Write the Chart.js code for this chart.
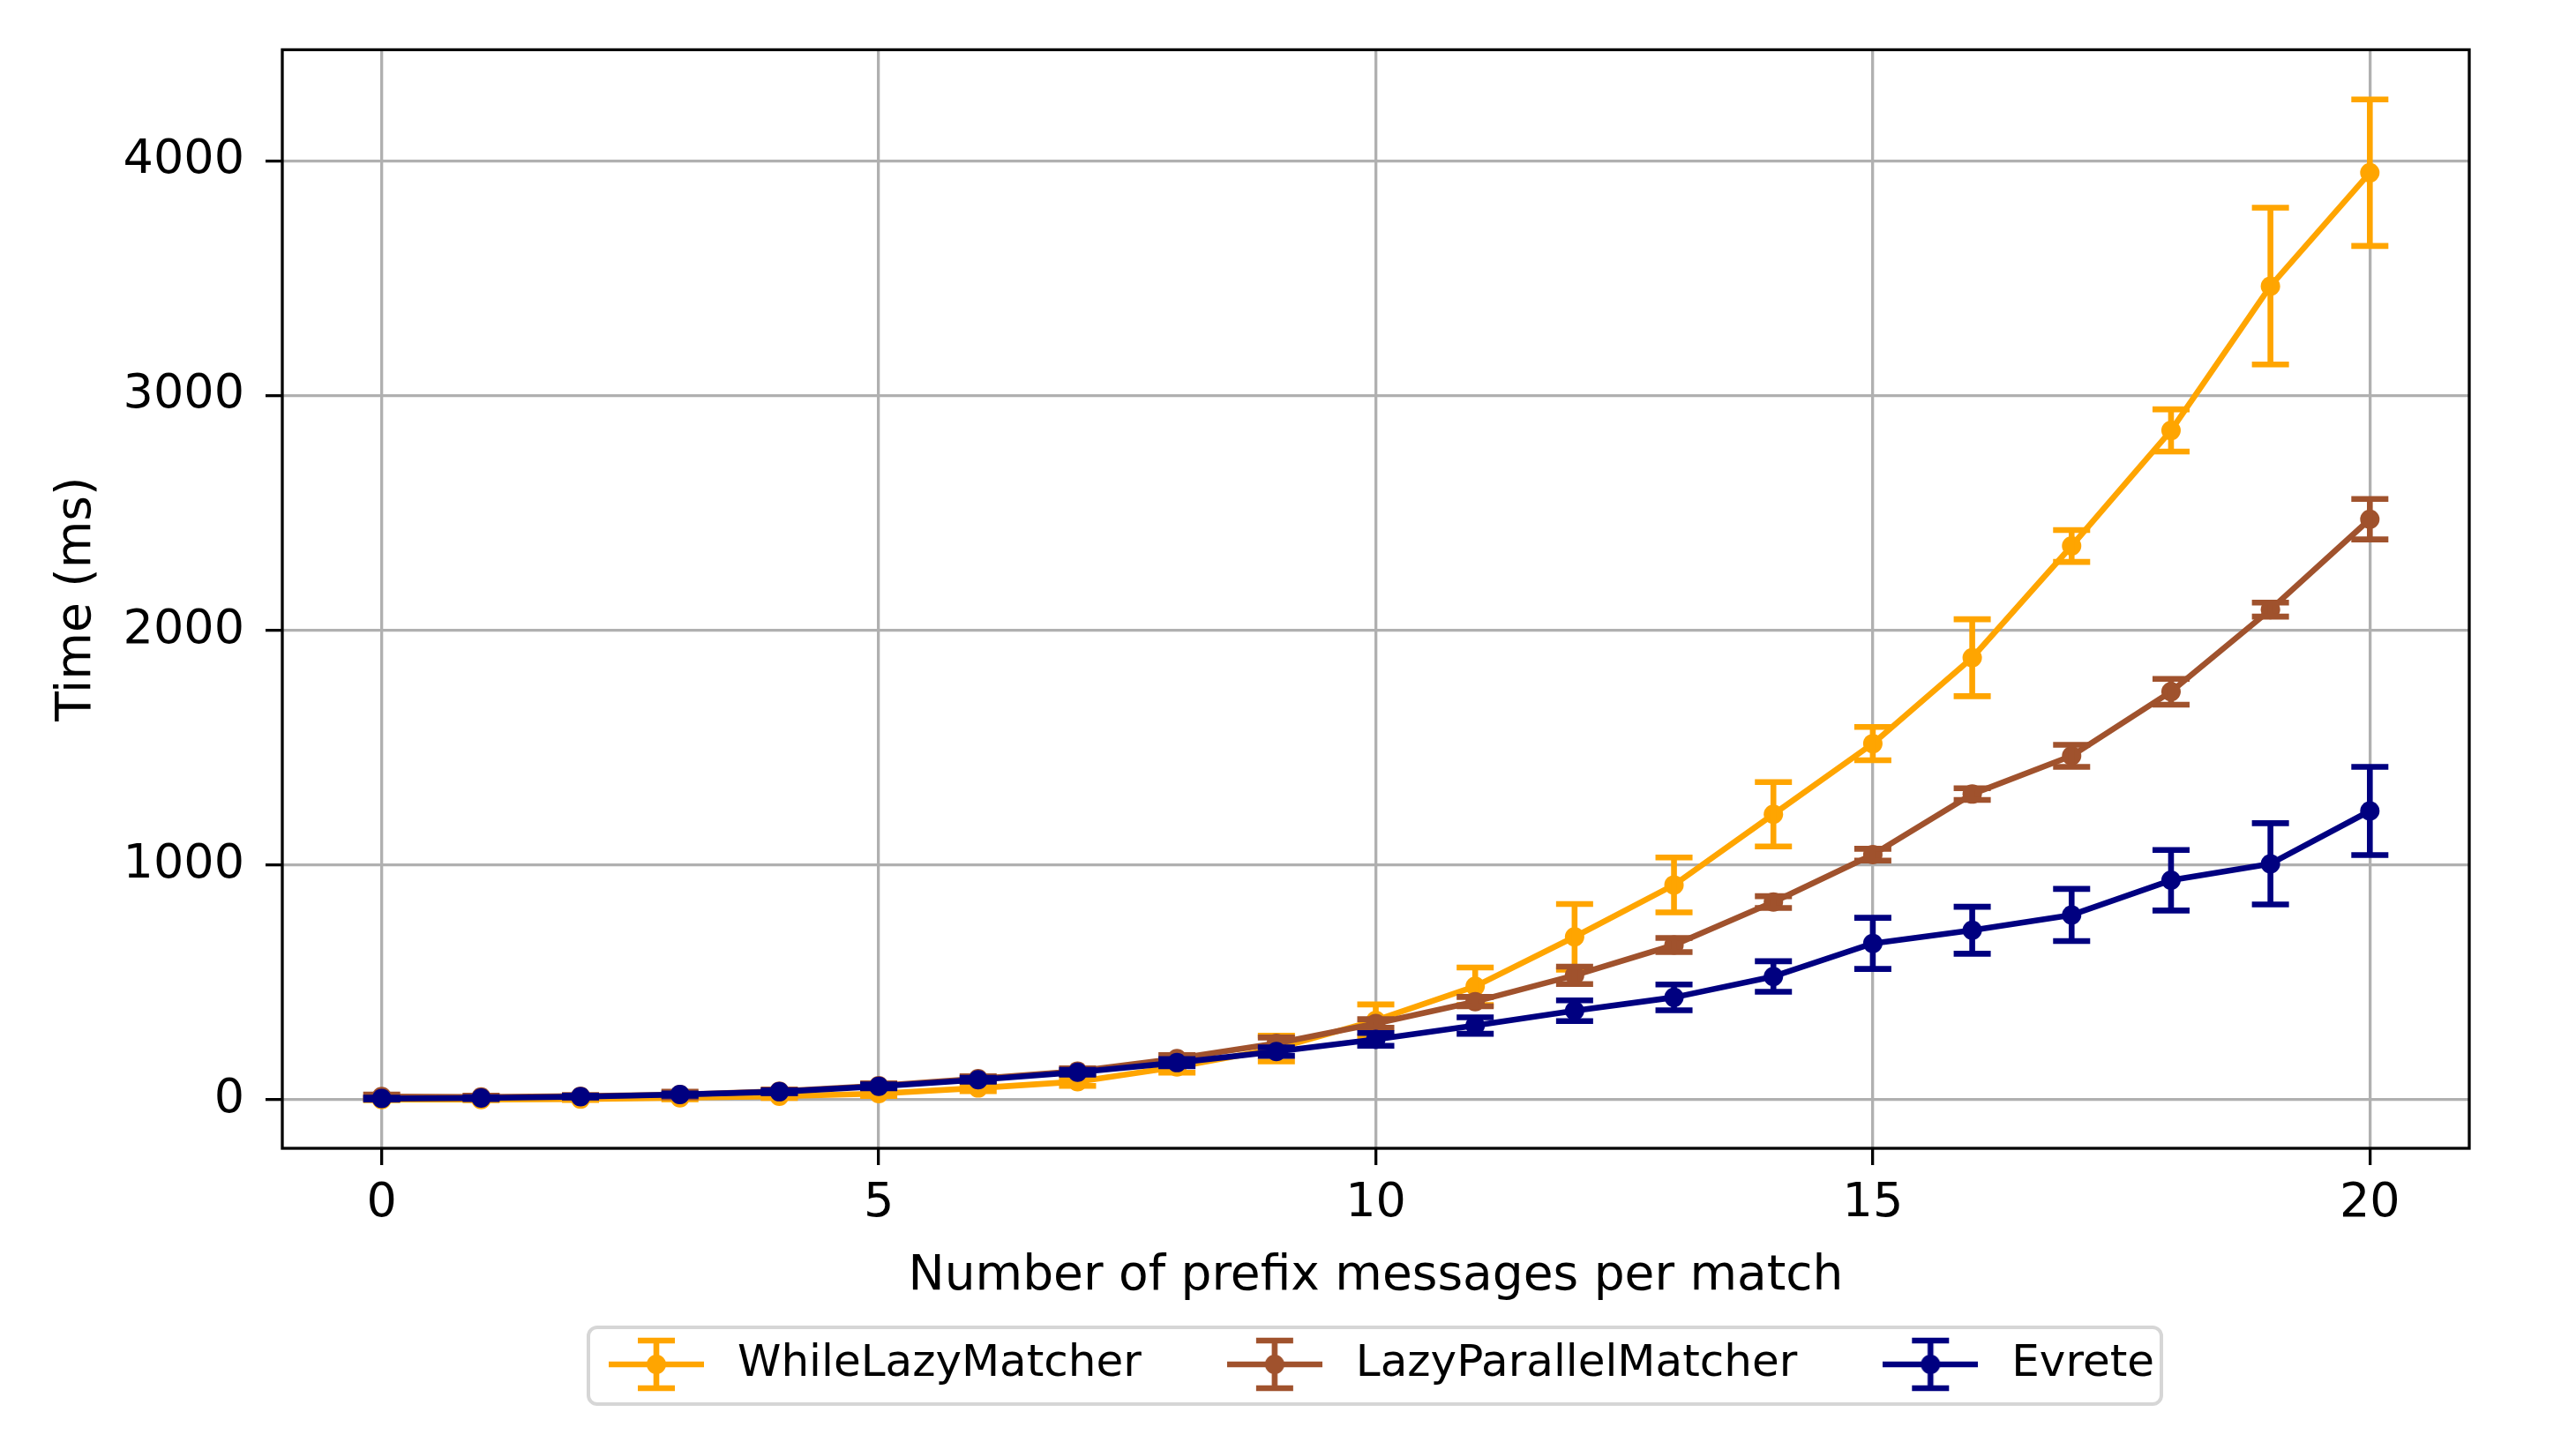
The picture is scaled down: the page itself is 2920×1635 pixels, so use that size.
<!DOCTYPE html>
<html lang="en">
  <head>
    <meta charset="UTF-8" />
    <title>Time per prefix messages</title>
    <script src="https://cdn.jsdelivr.net/npm/chart.js"></script>
    <style>
      body {
        margin: 0;
        background: #ffffff;
      }

      canvas {
        display: block;
      }
    </style>
  </head>

  <body>
    <canvas id="timeChart" width="2920" height="1635"></canvas>

    <script>
      // x axis: number of prefix messages per match
      const prefixCounts = [0, 1, 2, 3, 4, 5, 6, 7, 8, 9, 10, 11, 12, 13, 14, 15, 16, 17, 18, 19, 20];
      const xTicks = [0, 5, 10, 15, 20];
      const yTicks = [0, 1000, 2000, 3000, 4000];

      const seriesNames = ["WhileLazyMatcher", "LazyParallelMatcher", "Evrete"];
      const seriesColors = ["#ffa500", "#a0522d", "#000080"];

      // mean time (ms) and error (+/-)
      const whileLazyTimes = [1, 1, 3, 8, 15, 26, 50, 77, 140, 218, 338, 483, 694, 915, 1216, 1517, 1883, 2359, 2851, 3466, 3949];
      const whileLazyErrors = [3, 3, 4, 6, 8, 10, 14, 18, 25, 55, 68, 80, 140, 117, 137, 71, 164, 68, 90, 334, 312];

      const lazyParallelTimes = [14, 12, 15, 22, 36, 60, 90, 122, 175, 240, 325, 418, 530, 659, 842, 1044, 1302, 1465, 1738, 2088, 2473];
      const lazyParallelErrors = [8, 5, 5, 12, 8, 10, 10, 12, 15, 25, 18, 20, 37, 30, 25, 25, 25, 47, 55, 30, 86];

      const evreteTimes = [5, 7, 13, 22, 34, 57, 85, 117, 158, 205, 257, 316, 379, 436, 525, 666, 722, 787, 935, 1005, 1230];
      const evreteErrors = [4, 4, 4, 5, 6, 8, 8, 10, 15, 18, 27, 35, 44, 55, 65, 109, 100, 111, 129, 173, 188];

      const LINE_W = 6.6;
      const CAP_HALF = 21;
      const FONT = "'DejaVu Sans', 'Liberation Sans', sans-serif";

      // small canvas used as legend symbol (line + marker + error bar)
      function makeLegendIcon(color) {
        const c = document.createElement("canvas");
        c.width = 108;
        c.height = 64;
        const g = c.getContext("2d");
        g.strokeStyle = color;
        g.fillStyle = color;
        g.lineWidth = LINE_W;
        g.beginPath();
        g.moveTo(0, 32);
        g.lineTo(108, 32);
        g.moveTo(54, 5);
        g.lineTo(54, 59);
        g.moveTo(54 - CAP_HALF, 5);
        g.lineTo(54 + CAP_HALF, 5);
        g.moveTo(54 - CAP_HALF, 59);
        g.lineTo(54 + CAP_HALF, 59);
        g.stroke();
        g.beginPath();
        g.arc(54, 32, 11, 0, Math.PI * 2);
        g.fill();
        return c;
      }
      const legendIcons = seriesColors.map(makeLegendIcon);

      // draws the error bars of each series right after its line
      const errorBarPlugin = {
        id: "errorBars",
        afterDatasetDraw(chart, args) {
          const ds = chart.data.datasets[args.index];
          if (!ds.errors) return;
          const ctx = chart.ctx;
          const yScale = chart.scales.y;
          ctx.save();
          ctx.strokeStyle = ds.borderColor;
          ctx.lineWidth = LINE_W;
          args.meta.data.forEach((pt, i) => {
            const v = ds.data[i].y;
            const top = yScale.getPixelForValue(v + ds.errors[i]);
            const bottom = yScale.getPixelForValue(v - ds.errors[i]);
            ctx.beginPath();
            ctx.moveTo(pt.x, top);
            ctx.lineTo(pt.x, bottom);
            ctx.moveTo(pt.x - CAP_HALF, top);
            ctx.lineTo(pt.x + CAP_HALF, top);
            ctx.moveTo(pt.x - CAP_HALF, bottom);
            ctx.lineTo(pt.x + CAP_HALF, bottom);
            ctx.stroke();
          });
          ctx.restore();
        },
      };

      // black box around the plot area, like matplotlib spines
      const framePlugin = {
        id: "axesFrame",
        afterDatasetsDraw(chart) {
          const { ctx, chartArea } = chart;
          ctx.save();
          ctx.strokeStyle = "#000000";
          ctx.lineWidth = 3.3;
          ctx.strokeRect(chartArea.left, chartArea.top, chartArea.right - chartArea.left, chartArea.bottom - chartArea.top);
          ctx.restore();
        },
      };

      // rounded grey frame behind the legend entries
      const legendFramePlugin = {
        id: "legendFrame",
        beforeDraw(chart) {
          const legend = chart.legend;
          if (!legend || !legend.legendHitBoxes.length) return;
          const boxes = legend.legendHitBoxes;
          const first = boxes[0];
          const last = boxes[boxes.length - 1];
          const cy = first.top + first.height / 2;
          const x0 = first.left - 10;
          const x1 = last.left + last.width + 8;
          const y0 = cy - 42;
          const y1 = cy + 45;
          const ctx = chart.ctx;
          ctx.save();
          ctx.fillStyle = "#ffffff";
          ctx.strokeStyle = "#d6d6d6";
          ctx.lineWidth = 4;
          ctx.beginPath();
          ctx.roundRect(x0, y0, x1 - x0, y1 - y0, 10);
          ctx.fill();
          ctx.stroke();
          ctx.restore();
        },
      };

      function toPoints(values) {
        return prefixCounts.map((x, i) => ({ x: x, y: values[i] }));
      }

      function makeDataset(index, values, errors) {
        return {
          label: seriesNames[index],
          data: toPoints(values),
          errors: errors,
          borderColor: seriesColors[index],
          backgroundColor: seriesColors[index],
          pointBackgroundColor: seriesColors[index],
          borderWidth: LINE_W,
          borderJoinStyle: "round",
          pointRadius: 11,
          pointBorderWidth: 0,
          pointHoverRadius: 11,
          tension: 0,
          fill: false,
          order: 3 - index, // later series are drawn on top
        };
      }

      const ctxTime = document.getElementById("timeChart").getContext("2d");
      new Chart(ctxTime, {
        type: "line",
        data: {
          datasets: [
            makeDataset(0, whileLazyTimes, whileLazyErrors),
            makeDataset(1, lazyParallelTimes, lazyParallelErrors),
            makeDataset(2, evreteTimes, evreteErrors),
          ],
        },
        options: {
          responsive: false,
          animation: false,
          devicePixelRatio: 1,
          events: [],
          layout: {
            padding: { top: 56, right: 121, bottom: 53, left: 0 },
          },
          scales: {
            x: {
              type: "linear",
              min: -1,
              max: 21,
              afterBuildTicks: (axis) => {
                axis.ticks = xTicks.map((v) => ({ value: v }));
              },
              afterFit: (axis) => {
                axis.height = 136;
              },
              grid: {
                color: "#b0b0b0",
                lineWidth: 3.3,
                tickColor: "#000000",
                tickWidth: 3.3,
                tickLength: 19,
              },
              border: { display: false },
              ticks: {
                color: "#000000",
                padding: 12,
                font: { family: FONT, size: 54 },
                maxRotation: 0,
                callback: (v) => String(v),
              },
              title: {
                display: true,
                text: "Number of prefix messages per match",
                color: "#000000",
                font: { family: FONT, size: 55 },
                padding: { top: 0, bottom: -43 },
              },
            },
            y: {
              type: "linear",
              min: -207,
              max: 4473,
              afterBuildTicks: (axis) => {
                axis.ticks = yTicks.map((v) => ({ value: v }));
              },
              afterFit: (axis) => {
                axis.width = 320;
              },
              grid: {
                color: "#b0b0b0",
                lineWidth: 3.3,
                tickColor: "#000000",
                tickWidth: 3.3,
                tickLength: 19,
              },
              border: { display: false },
              ticks: {
                color: "#000000",
                padding: 24,
                font: { family: FONT, size: 54 },
                callback: (v) => String(v),
              },
              title: {
                display: true,
                text: "Time (ms)",
                color: "#000000",
                font: { family: FONT, size: 55 },
                padding: { top: 55, bottom: 0 },
              },
            },
          },
          plugins: {
            tooltip: { enabled: false },
            legend: {
              position: "bottom",
              fullSize: false,
              labels: {
                usePointStyle: true,
                pointStyleWidth: 134,
                padding: 84,
                color: "#000000",
                font: { family: FONT, size: 50 },
                sort: (a, b) => a.datasetIndex - b.datasetIndex,
                generateLabels: (chart) => {
                  const items = Chart.defaults.plugins.legend.labels.generateLabels(chart);
                  items.forEach((item) => {
                    item.pointStyle = legendIcons[item.datasetIndex];
                  });
                  return items;
                },
              },
            },
          },
        },
        plugins: [errorBarPlugin, framePlugin, legendFramePlugin],
      });
    </script>
  </body>
</html>
